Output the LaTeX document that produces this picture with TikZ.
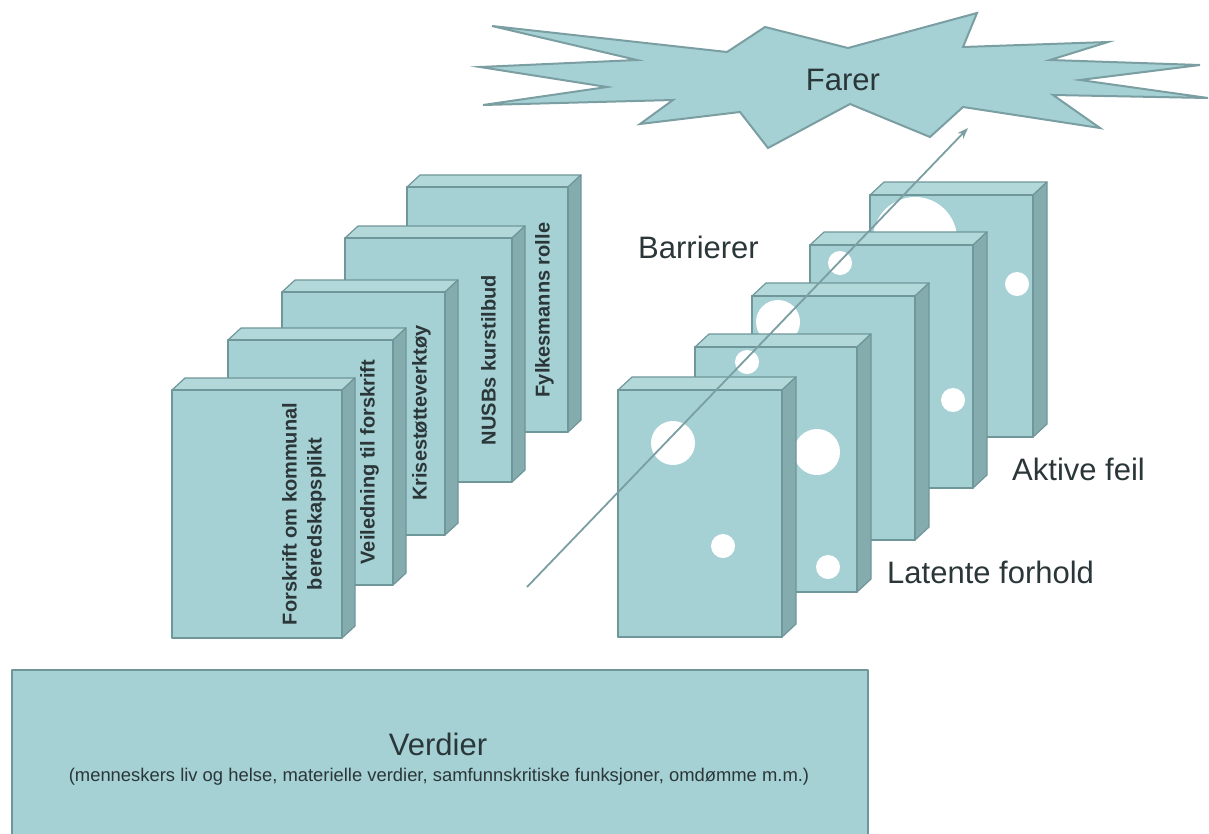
\documentclass[tikz,border=0pt]{standalone}
\usepackage{fontspec}
\setmainfont{Liberation Sans}
\usetikzlibrary{arrows.meta}

\definecolor{frontcol}{HTML}{A5D1D4}
\definecolor{topcol}{HTML}{B3D8DA}
\definecolor{sidecol}{HTML}{84ABAE}
\definecolor{edgecol}{HTML}{6F9699}
\definecolor{inkcol}{HTML}{2B3639}
\definecolor{arrowcol}{HTML}{7A9EA2}

\tikzset{
  frontface/.style={fill=frontcol},
  topface/.style={fill=topcol, draw=edgecol, line width=1.2pt, line join=round},
  sideface/.style={fill=sidecol, draw=edgecol, line width=1.2pt, line join=round},
  faceedge/.style={draw=edgecol, line width=1.2pt, line join=round},
  boxlabel/.style={text=inkcol, font=\fontsize{20}{25}\bfseries\selectfont,
    rotate=90, anchor=south, inner sep=0pt, align=center},
  biglabel/.style={text=inkcol, font=\fontsize{31}{36}\selectfont, inner sep=0pt},
  arrowline/.style={draw=arrowcol, line width=1.8pt,
    -{Stealth[length=11pt, width=8pt]}},
}

% a slab seen in perspective: front face (x0,y0)-(x1,y1), depth offset (dx,dy)
\newcommand{\slab}[6]{%
  \path[topface] (#1,#2) -- ({#1+#5},{#2+#6}) -- ({#3+#5},{#2+#6}) -- (#3,#2) -- cycle;
  \path[sideface] (#3,#2) -- ({#3+#5},{#2+#6}) -- ({#3+#5},{#4+#6}) -- (#3,#4) -- cycle;
  \path[frontface] (#1,#2) rectangle (#3,#4);
  \path[faceedge] (#1,#2) rectangle (#3,#4);
}
% white holes punched into a front face
\newcommand{\holes}[5]{%
  \begin{scope}
    \clip (#1,#2) rectangle (#3,#4);
    \foreach \hx/\hy/\hr in {#5} {\fill[white] (\hx,\hy) circle[radius=\hr pt];}
  \end{scope}
  \path[faceedge] (#1,#2) rectangle (#3,#4);
}

\begin{document}
\begin{tikzpicture}[x=1pt, y=-1pt]
\useasboundingbox (0,0) rectangle (1209,833);

% hazard burst
\path[fill=frontcol, draw=arrowcol, line width=2pt, line join=miter]
  (492,26) -- (727,52) -- (765,27) -- (848,48) -- (977,13) -- (963,47)
  -- (1108,42) -- (1050,60) -- (1200,65) -- (1080,80) -- (1208,98)
  -- (1053,95) -- (1100,128) -- (963,107) -- (930,137) -- (850,104)
  -- (768,148) -- (740,112) -- (640,124) -- (673,100) -- (483,105)
  -- (607,87) -- (480,67) -- (637,60) -- cycle;
\node[biglabel, anchor=base] (farer) at (843,90) {Farer};

% measures, back to front
\slab{407}{187}{568}{432}{13}{-12}
\node[boxlabel] (lbl5) at (554,310) {Fylkesmanns rolle};
\slab{345}{238}{512}{482}{13}{-12}
\node[boxlabel] (lbl4) at (496,360) {NUSBs kurstilbud};
\slab{282}{292}{445}{535}{13}{-12}
\node[boxlabel] (lbl3) at (431,413) {Krisestøtteverktøy};
\slab{228}{340}{393}{585}{13}{-12}
\node[boxlabel] (lbl2) at (379,462) {Veiledning til forskrift};
\slab{172}{390}{342}{638}{13}{-12}
\node[boxlabel] (lbl1) at (326,514) {Forskrift om kommunal\\beredskapsplikt};

% barriers with holes, back to front
\slab{870}{195}{1033}{437}{14}{-13}
\holes{870}{195}{1033}{437}{915/239/42, 1017/284/12}
\slab{810}{245}{973}{488}{14}{-13}
\holes{810}{245}{973}{488}{840/263/12, 953/400/12}
\slab{752}{296}{915}{540}{14}{-13}
\holes{752}{296}{915}{540}{778/322/22}
\slab{695}{347}{857}{592}{14}{-13}
\holes{695}{347}{857}{592}{747/362/12, 817/452/23, 828/567/12}
\slab{618}{390}{782}{637}{14}{-13}
\holes{618}{390}{782}{637}{673/443/22, 723/546/12}

% trajectory through the holes
\coordinate (trajstart) at (527,587);
\coordinate (trajend) at (968,128);
\draw[arrowline] (trajstart) -- (trajend);

\node[biglabel, anchor=base west] (barrierer) at (638,258) {Barrierer};
\node[biglabel, anchor=base west] (aktive) at (1012,480) {Aktive feil};
\node[biglabel, anchor=base west] (latente) at (887,583) {Latente forhold};

% values
\fill[frontcol] (12,670) rectangle (868,834);
\draw[faceedge] (12,834) -- (12,670) -- (868,670) -- (868,834);
\node[biglabel, anchor=base] (verdier) at (438,755) {Verdier};
\node[text=inkcol, font=\fontsize{18.4}{21}\selectfont, inner sep=0pt, anchor=base] (verdiertekst) at (439,781)
  {(menneskers liv og helse, materielle verdier, samfunnskritiske funksjoner, omdømme m.m.)};
\end{tikzpicture}
\end{document}
